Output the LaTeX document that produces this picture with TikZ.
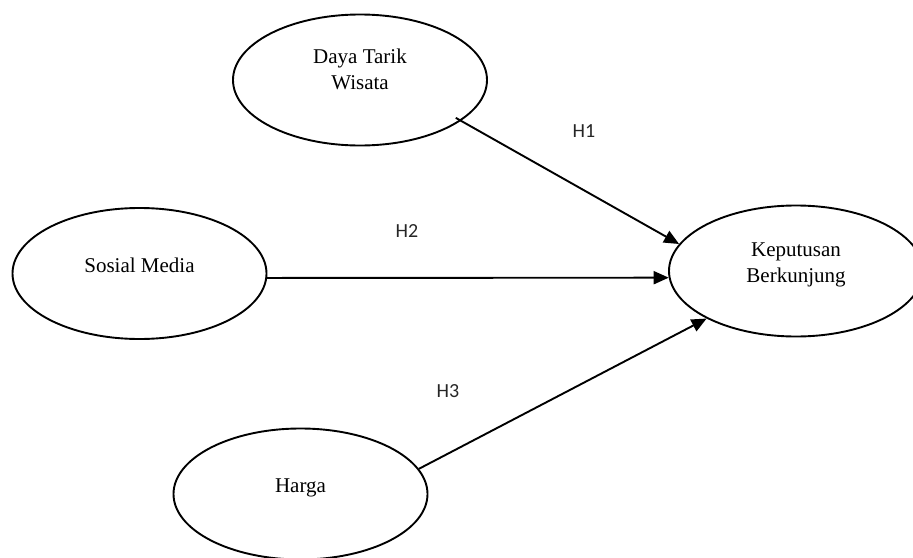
\documentclass[tikz,border=0pt]{standalone}
\usepackage{fontspec}
\setmainfont{Liberation Serif}
\newfontfamily\labfont{Carlito}
\usetikzlibrary{shapes.geometric,arrows.meta}

\begin{document}
\begin{tikzpicture}[
    x=1pt, y=-1pt,
    latent/.style={draw, ellipse, line width=1.9pt, minimum width=254pt, minimum height=131pt,
        inner sep=0pt, align=center, text depth=17pt, font=\fontsize{21}{26}\selectfont},
    arrow/.style={-{Triangle[length=15pt,width=13pt]}, line width=1.9pt},
    hyp/.style={font=\labfont\fontsize{20}{24}\selectfont, text=black!85}
]
\useasboundingbox (0,0) rectangle (913,557);

% Variabel
\node[latent, text depth=21pt] (daya) at (360,80) {Daya Tarik\\Wisata};
\node[latent] (sosmed) at (139.5,273.5) {Sosial Media};
\node[latent] (harga) at (300.5,494) {Harga};
\node[latent] (keputusan) at (796,271) {Keputusan\\Berkunjung};

% Hipotesis
\draw[arrow, shorten <=-6pt] (daya.338) -- (keputusan.167);
\draw[arrow] (sosmed.-2.5) -- (keputusan.183.6);
\draw[arrow] (harga.12.5) -- (keputusan.208);

\node[hyp] (h1) at (584,131) {H1};
\node[hyp] (h2) at (407,231) {H2};
\node[hyp] (h3) at (448,391) {H3};

\end{tikzpicture}
\end{document}
